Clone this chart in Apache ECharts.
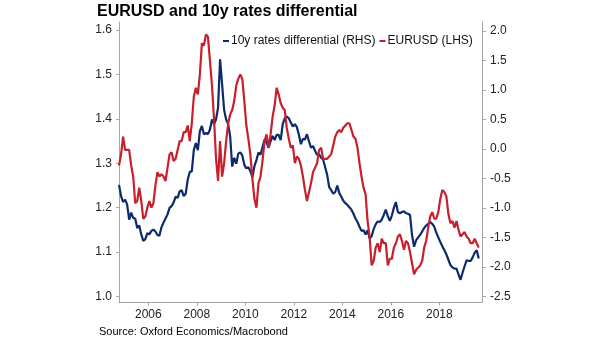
<!DOCTYPE html>
<html><head><meta charset="utf-8">
<script src="https://cdn.jsdelivr.net/npm/echarts@6/dist/echarts.min.js"></script>
<style>html,body{margin:0;padding:0;background:#fff}#c{width:605px;height:341px}</style>
</head><body><div id="c"></div>
<script>
// Monthly observations starting Oct 2004
const startYear = 2004, startMonth = 10;
const eurusd = [
1.295,1.32,1.36,1.33,1.33,1.33,1.295,1.27,1.21,1.215,
1.245,1.215,1.175,1.18,1.20,1.215,1.20,1.21,1.25,1.28,
1.27,1.275,1.27,1.26,1.29,1.32,1.325,1.305,1.31,1.33,
1.35,1.35,1.37,1.37,1.385,1.35,1.39,1.45,1.47,1.455,
1.50,1.57,1.565,1.59,1.585,1.53,1.475,1.40,1.31,1.26,
1.35,1.27,1.30,1.35,1.39,1.41,1.42,1.44,1.475,1.49,
1.50,1.49,1.44,1.385,1.355,1.32,1.265,1.22,1.20,1.255,
1.27,1.305,1.35,1.365,1.335,1.365,1.405,1.43,1.47,1.455,
1.435,1.425,1.42,1.38,1.355,1.335,1.34,1.30,1.315,1.31,
1.295,1.27,1.24,1.215,1.235,1.255,1.28,1.29,1.30,1.33,
1.335,1.31,1.31,1.31,1.315,1.32,1.34,1.36,1.37,1.375,
1.37,1.38,1.385,1.39,1.39,1.375,1.36,1.355,1.335,1.30,
1.27,1.245,1.23,1.17,1.135,1.07,1.08,1.11,1.12,1.10,
1.13,1.12,1.12,1.07,1.085,1.085,1.11,1.12,1.135,1.14,
1.125,1.105,1.125,1.12,1.10,1.075,1.05,1.06,1.065,1.07,
1.08,1.11,1.125,1.155,1.18,1.19,1.175,1.175,1.19,1.22,
1.24,1.235,1.225,1.185,1.165,1.17,1.155,1.17,1.15,1.135,
1.14,1.145,1.135,1.13,1.12,1.12,1.13,1.12,1.11
];
const rateDiff = [
-0.61,-0.80,-0.90,-0.86,-0.94,-1.20,-1.08,-1.17,-1.18,-1.34,
-1.30,-1.45,-1.56,-1.53,-1.43,-1.45,-1.39,-1.37,-1.40,-1.46,
-1.47,-1.33,-1.25,-1.18,-1.11,-1.00,-0.97,-0.91,-0.81,-0.83,
-0.72,-0.70,-0.80,-0.76,-0.52,-0.39,-0.38,-0.02,0.10,-0.02,
0.30,0.39,0.25,0.27,0.25,0.33,0.50,0.42,0.50,0.70,
1.52,1.10,0.66,0.50,0.42,0.21,-0.30,-0.15,-0.25,-0.08,
-0.06,-0.11,-0.27,-0.33,-0.31,-0.38,-0.48,-0.29,-0.19,-0.06,
-0.10,0.03,0.16,0.11,0.02,0.13,0.22,0.15,0.24,0.24,
0.15,0.42,0.52,0.55,0.52,0.45,0.38,0.42,0.37,0.24,
0.08,0.17,0.16,0.25,0.13,0.02,0.05,-0.03,-0.10,-0.09,
-0.15,-0.18,-0.31,-0.44,-0.65,-0.70,-0.76,-0.73,-0.62,-0.75,
-0.81,-0.88,-0.92,-0.95,-0.99,-1.03,-1.10,-1.18,-1.24,-1.32,
-1.39,-1.38,-1.45,-1.38,-1.52,-1.48,-1.36,-1.28,-1.23,-1.24,
-1.20,-1.12,-1.03,-1.14,-1.22,-1.13,-1.00,-0.90,-1.07,-1.09,
-1.07,-1.06,-1.09,-1.10,-1.12,-1.46,-1.66,-1.55,-1.50,-1.46,
-1.40,-1.34,-1.30,-1.27,-1.24,-1.27,-1.32,-1.42,-1.50,-1.58,
-1.65,-1.72,-1.79,-1.88,-1.97,-2.01,-2.03,-2.03,-2.13,-2.22,
-2.10,-1.99,-1.89,-1.90,-1.90,-1.84,-1.76,-1.72,-1.86
];
const xTickYears = [2006,2008,2010,2012,2014,2016,2018];
const leftTicks = [1.0,1.1,1.2,1.3,1.4,1.5,1.6];
const rightTicks = [-2.5,-2.0,-1.5,-1.0,-0.5,0.0,0.5,1.0,1.5,2.0];
const seriesNames = ['10y rates differential (RHS)','EURUSD (LHS)'];

function monthDate(i){
  const m = startMonth - 1 + i;
  return startYear + Math.floor(m / 12) + ((m % 12) + 0.5) / 12;
}
const FONT = '"Liberation Sans", Arial, sans-serif';
const axisGray = '#a6a6a6';
const chart = echarts.init(document.getElementById('c'), null, {renderer:'canvas'});
chart.setOption({
  animation: false,
  backgroundColor: '#fff',
  textStyle: {fontFamily: FONT},
  title: {
    text: 'EURUSD and 10y rates differential',
    left: 97, top: 4, padding: 0,
    textStyle: {fontSize: 16, fontWeight: 'bold', color: '#000', fontFamily: FONT}
  },
  graphic: [{
    type: 'text', left: 99, top: 326,
    style: {text: 'Source: Oxford Economics/Macrobond', fontSize: 11, fill: '#000', fontFamily: FONT}
  }],
  legend: {
    data: seriesNames,
    left: 223, top: 35, padding: 0,
    icon: 'rect', itemWidth: 6, itemHeight: 2, itemGap: 4,
    textStyle: {fontSize: 12, color: '#111', fontFamily: FONT, padding: [0,0,0,-3]}
  },
  grid: {left: 119, right: 123, top: 22, bottom: 38.5, containLabel: false},
  xAxis: {
    type: 'value', min: 2004.79, max: 2019.76,
    axisLine: {show: true, onZero: false, lineStyle: {color: axisGray, width: 1}},
    axisTick: {show: true, length: 3, customValues: xTickYears, lineStyle: {color: axisGray}},
    axisLabel: {customValues: xTickYears, formatter: v => String(Math.round(v)), color: '#222', fontSize: 12, margin: 6},
    splitLine: {show: false}
  },
  yAxis: [{
    type: 'value', position: 'left', min: 0.9865, max: 1.618,
    axisLine: {show: true, onZero: false, lineStyle: {color: axisGray, width: 1}},
    axisTick: {show: true, length: 3, customValues: leftTicks, lineStyle: {color: axisGray}},
    axisLabel: {customValues: leftTicks, formatter: v => v.toFixed(1), color: '#222', fontSize: 12, margin: 7},
    splitLine: {show: false}
  },{
    type: 'value', position: 'right', min: -2.605, max: 2.153,
    axisLine: {show: true, onZero: false, lineStyle: {color: axisGray, width: 1}},
    axisTick: {show: true, length: 4, customValues: rightTicks, lineStyle: {color: axisGray}},
    axisLabel: {customValues: rightTicks, formatter: v => v.toFixed(1), color: '#222', fontSize: 12, margin: 8},
    splitLine: {show: false}
  }],
  series: [{
    name: seriesNames[0], type: 'line', yAxisIndex: 1, showSymbol: false, symbol: 'none',
    data: rateDiff.map((v, i) => [monthDate(i), v]),
    lineStyle: {color: '#0c2a6c', width: 2.2}, itemStyle: {color: '#0c2a6c'}
  },{
    name: seriesNames[1], type: 'line', yAxisIndex: 0, showSymbol: false, symbol: 'none',
    data: eurusd.map((v, i) => [monthDate(i), v]),
    lineStyle: {color: '#c81f2d', width: 2.2}, itemStyle: {color: '#c81f2d'}
  }]
});
</script>
</body></html>
